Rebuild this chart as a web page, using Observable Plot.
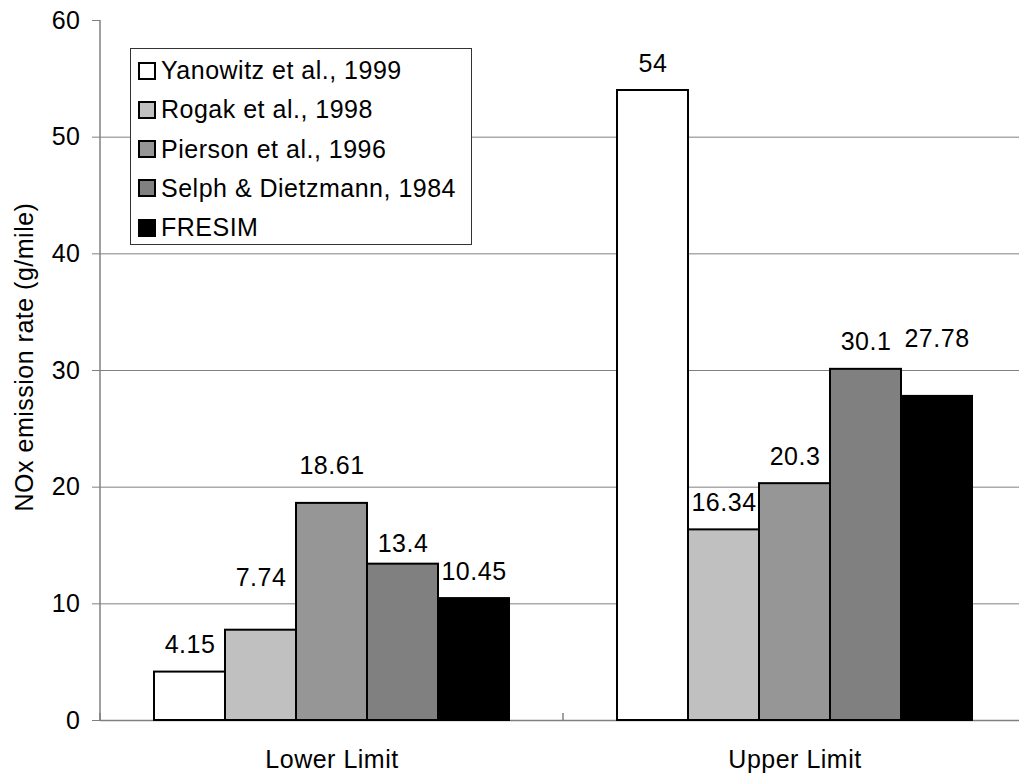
<!DOCTYPE html>
<html>
<head>
<meta charset="utf-8">
<script src="https://cdn.jsdelivr.net/npm/d3@7"></script>
<script src="https://cdn.jsdelivr.net/npm/@observablehq/plot@0.6"></script>
<style>
  html, body { margin: 0; padding: 0; background: #fff; overflow: hidden; }
  #wrap { position: relative; width: 1019px; height: 777px; overflow: hidden; }
  #wrap svg { max-width: none !important; display: block; }
  #wrap svg text { letter-spacing: 0.5px; }
  .legend {
    position: absolute; left: 130px; top: 48px; width: 342px; height: 197px;
    border: 1px solid #333; background: #fff; box-sizing: border-box;
    font-family: "Liberation Sans", Arial, sans-serif; font-size: 25px; letter-spacing: 0.5px;
    padding-top: 2px; padding-left: 7px; color: #000;
  }
  .legend .row { height: 39.25px; display: flex; align-items: center; white-space: nowrap; }
  .legend .sw { width: 14px; height: 14px; border: 2px solid #000; margin-right: 5px; flex: none; }
</style>
</head>
<body>
<div id="wrap"></div>
<script>
// ---- data ----
const categories = ["Lower Limit", "Upper Limit"];
const series = ["Yanowitz et al., 1999", "Rogak et al., 1998", "Pierson et al., 1996", "Selph & Dietzmann, 1984", "FRESIM"];
const lowerValues = [4.15, 7.74, 18.61, 13.4, 10.45];
const upperValues = [54, 16.34, 20.3, 30.1, 27.78];
const yTicks = [0, 10, 20, 30, 40, 50, 60];
const gridValues = [10, 20, 30, 40, 50];
const yLabel = "NOx emission rate (g/mile)";

// ---- styling / layout config ----
const colors = ["#ffffff", "#c0c0c0", "#969696", "#808080", "#000000"];
const FONT = "'Liberation Sans', Arial, sans-serif";
// extra lift (in y units) of labels that were moved in the original
const labelLift = {
  "Lower Limit|Rogak et al., 1998": 2.15,
  "Lower Limit|Pierson et al., 1996": 0.85,
  "Lower Limit|Selph & Dietzmann, 1984": -0.6,
  "Upper Limit|FRESIM": 2.6
};

const rows = [];
categories.forEach((c, i) => {
  const vals = i === 0 ? lowerValues : upperValues;
  series.forEach((s, j) => rows.push({category: c, series: s, value: vals[j]}));
});

const chart = Plot.plot({
  width: 1026,
  height: 777,
  marginTop: 20,
  marginBottom: 57,
  marginLeft: 100,
  marginRight: 0,
  style: {fontFamily: FONT, fontSize: "25px", background: "#fff", color: "#000"},
  fx: {domain: categories, padding: 0, label: null},
  x: {domain: series, paddingInner: 0, paddingOuter: 0.75, axis: null},
  y: {domain: [0, 60], label: null},
  color: {domain: series, range: colors},
  marks: [
    Plot.ruleY(gridValues, {stroke: "#808080", strokeWidth: 1}),
    Plot.ruleY([0], {stroke: "#808080", strokeWidth: 1.5}),
    Plot.barY(rows, {fx: "category", x: "series", y: "value", fill: "series", stroke: "#000", strokeWidth: 2}),
    Plot.text(rows, {
      fx: "category", x: "series",
      y: d => d.value + (labelLift[d.category + "|" + d.series] || 0),
      text: d => String(d.value),
      dy: -27, lineAnchor: "middle", fill: "#000", fontSize: 25
    }),
    Plot.axisY({
      ticks: yTicks, tickSize: 8, tickPadding: 12, stroke: "#808080", fill: "#000",
      fontSize: 25, label: null
    }),
    Plot.axisFx({anchor: "bottom", tickSize: 0, tickPadding: 30, label: null, fill: "#000", fontSize: 25})
  ]
});

// axis line, category-boundary ticks and y title, positioned through Plot's scales
const ys = chart.scale("y"), fxs = chart.scale("fx");
const svg = d3.select(chart);
const y0 = ys.apply(0), yTop = ys.apply(60);
const left = fxs.apply(categories[0]);
svg.append("line").attr("x1", left).attr("x2", left).attr("y1", yTop).attr("y2", y0)
  .attr("stroke", "#808080").attr("stroke-width", 1.5);
const bounds = categories.map(c => fxs.apply(c)).concat([fxs.apply(categories[categories.length - 1]) + fxs.bandwidth]);
bounds.forEach(b => {
  svg.append("line").attr("x1", b).attr("x2", b).attr("y1", y0 - 7).attr("y2", y0)
    .attr("stroke", "#808080").attr("stroke-width", 1.5);
});
svg.append("text")
  .attr("transform", `translate(33,${(yTop + y0) / 2 - 13}) rotate(-90)`)
  .attr("text-anchor", "middle")
  .attr("fill", "#000")
  .attr("font-size", 25)
  .text(yLabel);

const wrap = document.getElementById("wrap");
wrap.appendChild(chart);

// legend
const legend = document.createElement("div");
legend.className = "legend";
series.forEach((s, i) => {
  const row = document.createElement("div");
  row.className = "row";
  const sw = document.createElement("span");
  sw.className = "sw";
  sw.style.background = colors[i];
  const t = document.createElement("span");
  t.textContent = s;
  row.appendChild(sw);
  row.appendChild(t);
  legend.appendChild(row);
});
wrap.appendChild(legend);
</script>
</body>
</html>
